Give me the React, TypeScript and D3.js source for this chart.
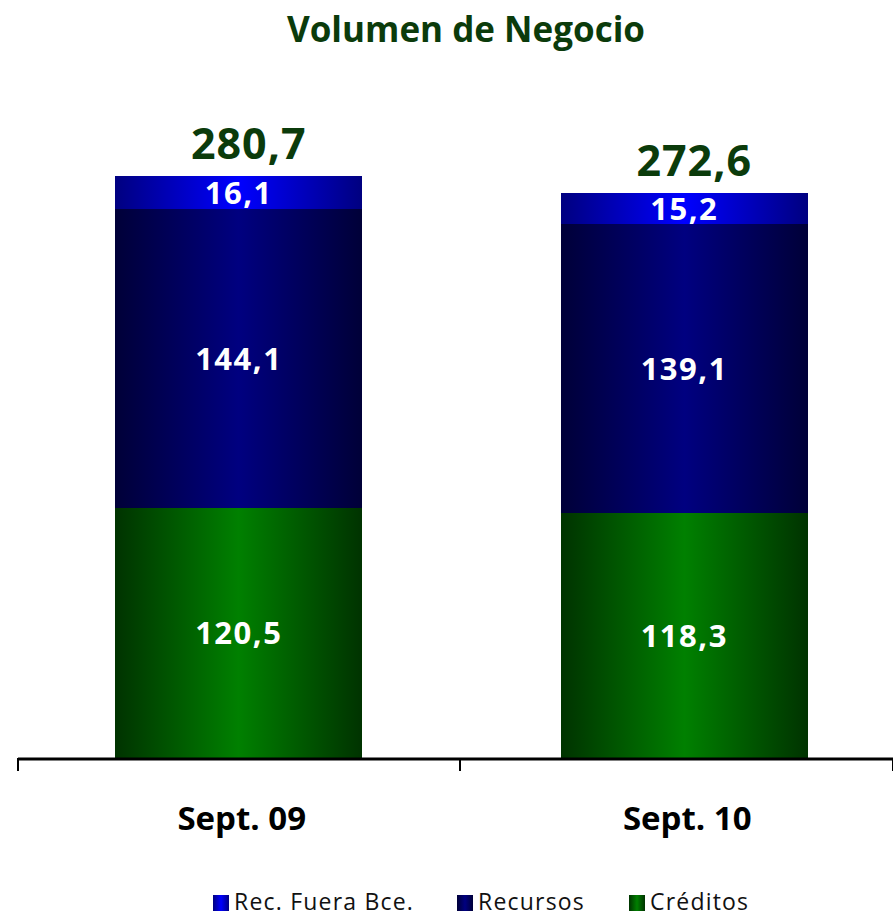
import React from 'react';
import * as d3 from 'd3';

const categories = ['Sept. 09', 'Sept. 10'];
const seriesNames = ['Créditos', 'Recursos', 'Rec. Fuera Bce.'];
const creditos = [120.5, 118.3];
const recursos = [144.1, 139.1];
const recFuera = [16.1, 15.2];
const totals = ['280,7', '272,6'];
const legendOrder = ['Rec. Fuera Bce.', 'Recursos', 'Créditos'];

const W = 893;
const H = 917;
const axisY = 758;

const gradients: Record<string, { id: string; edge: string; mid: string }> = {
  'Créditos': { id: 'gCred', edge: '#003300', mid: '#008000' },
  'Recursos': { id: 'gRecu', edge: '#000038', mid: '#000080' },
  'Rec. Fuera Bce.': { id: 'gFuera', edge: '#000080', mid: '#0000ff' },
};

const fmt = (v: number) => v.toFixed(1).replace('.', ',');

export default function App() {
  const x = d3.scaleBand<string>().domain(categories).range([16, 907]).paddingInner(0).paddingOuter(0);
  const y = d3.scaleLinear().domain([0, 300]).range([axisY, axisY - 300 * 2.073]);
  const barW = 247;

  const rows = categories.map((c, i) => ({
    cat: c,
    'Créditos': creditos[i],
    'Recursos': recursos[i],
    'Rec. Fuera Bce.': recFuera[i],
  }));
  const stack = d3.stack<any>().keys(seriesNames)(rows);

  const font = "'Open Sans', 'DejaVu Sans', sans-serif";

  return (
    <svg width={W} height={H} style={{ position: 'absolute', left: 0, top: 0 }} fontFamily={font}>
      <defs>
        {Object.values(gradients).map((g) => (
          <linearGradient key={g.id} id={g.id} x1="0" x2="1" y1="0" y2="0">
            <stop offset="0%" stopColor={g.edge} />
            <stop offset="50%" stopColor={g.mid} />
            <stop offset="100%" stopColor={g.edge} />
          </linearGradient>
        ))}
      </defs>
      <rect width={W} height={H} fill="#fff" />
      <text x={466} y={42} textAnchor="middle" fontSize={35} fontWeight="bold" fill="#0b3b0b">
        Volumen de Negocio
      </text>

      {stack.map((layer) =>
        layer.map((d, i) => {
          const cx = (x(categories[i]) as number) + x.bandwidth() / 2;
          const y0 = Math.round(y(d[0]));
          const y1 = Math.round(y(d[1]));
          return (
            <g key={layer.key + i}>
              <rect
                x={Math.round(cx - barW / 2)}
                y={y1}
                width={barW}
                height={y0 - y1}
                fill={`url(#${gradients[layer.key].id})`}
                shapeRendering="crispEdges"
              />
              <text
                x={cx}
                y={(y0 + y1) / 2 + 11}
                textAnchor="middle"
                fontSize={31}
                letterSpacing={1.5}
                fontWeight="bold"
                fill="#fff"
              >
                {fmt(d[1] - d[0])}
              </text>
            </g>
          );
        })
      )}

      {categories.map((c, i) => {
        const cx = (x(c) as number) + x.bandwidth() / 2;
        const top = y(creditos[i] + recursos[i] + recFuera[i]);
        return (
          <g key={c}>
            <text x={cx + 10} y={top - 17} textAnchor="middle" fontSize={43} letterSpacing={1} fontWeight="bold" fill="#0b3b0b">
              {totals[i]}
            </text>
            <text x={cx + 3} y={830} textAnchor="middle" fontSize={33} fontWeight="bold" fill="#000">
              {c}
            </text>
          </g>
        );
      })}

      <line x1={18} x2={W} y1={axisY + 1} y2={axisY + 1} stroke="#000" strokeWidth={3} />
      {[18, 460, 893].map((t) => (
        <line key={t} x1={t} x2={t} y1={axisY} y2={771} stroke="#000" strokeWidth={2} />
      ))}

      {legendOrder.map((name, i) => {
        const lx = [213, 457, 629][i];
        return (
          <g key={name} transform={`translate(${lx},895)`}>
            <rect width={16} height={16} fill={`url(#${gradients[name].id})`} />
            <text x={21} y={15} fontSize={23} letterSpacing={1.2} fill="#111">
              {name}
            </text>
          </g>
        );
      })}
    </svg>
  );
}
